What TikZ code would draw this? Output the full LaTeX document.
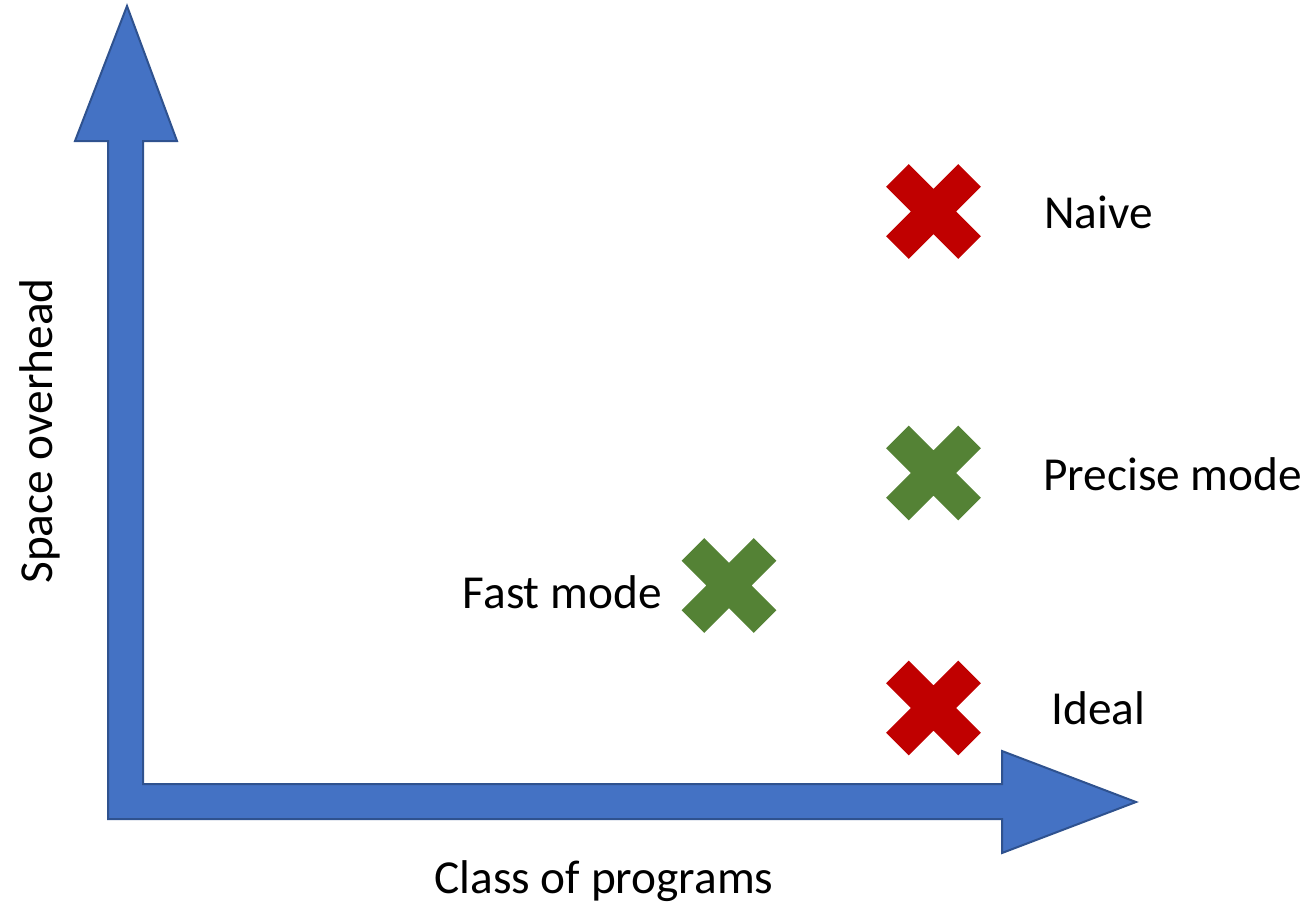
\documentclass[tikz,border=0pt]{standalone}
\usepackage{fontspec}
\setmainfont{Carlito}
\definecolor{axisfill}{HTML}{4472C4}
\definecolor{axisline}{HTML}{2F528F}
\definecolor{markred}{HTML}{C00000}
\definecolor{markgreen}{HTML}{548235}
\tikzset{
  axisshape/.style={fill=axisfill, draw=axisline, line width=1.5pt, line join=miter},
  lbl/.style={inner sep=0pt, font=\fontsize{35.5}{42}\selectfont},
  crossmark/.pic={
    \fill[#1] (0,-22.6) -- (24.7,-47.4) -- (47.4,-24.7) -- (22.6,0)
      -- (47.4,24.7) -- (24.7,47.4) -- (0,22.6) -- (-24.7,47.4)
      -- (-47.4,24.7) -- (-22.6,0) -- (-47.4,-24.7) -- (-24.7,-47.4) -- cycle;
  }
}
\begin{document}
\begin{tikzpicture}[x=0.75pt, y=-0.75pt]
  \useasboundingbox (0,0) rectangle (1309,904);

  % L-shaped block arrow forming both axes
  \path[axisshape] (127,6) -- (177,141) -- (143,141) -- (143,784)
    -- (1002,784) -- (1002,751) -- (1136,802) -- (1002,853) -- (1002,819)
    -- (108,819) -- (108,141) -- (75,141) -- cycle;

  % axis titles
  \node[lbl, anchor=base] (xtitle) at (604,893) {Class of programs};
  \node[lbl, anchor=base, rotate=90] (ytitle) at (52,431) {Space overhead};

  % marks
  \pic (naivemark)   at (933.5,211.5) {crossmark=markred};
  \pic (precisemark) at (933.5,473)   {crossmark=markgreen};
  \pic (fastmark)    at (729,585.5)   {crossmark=markgreen};
  \pic (idealmark)   at (933.5,708)   {crossmark=markred};

  % mark labels
  \node[lbl, anchor=base west] (naive)   at (1044,228) {Naive};
  \node[lbl, anchor=base west] (precise) at (1043,490) {Precise mode};
  \node[lbl, anchor=base east] (fast)    at (662,608)  {Fast mode};
  \node[lbl, anchor=base west] (ideal)   at (1051,724) {Ideal};
\end{tikzpicture}
\end{document}
